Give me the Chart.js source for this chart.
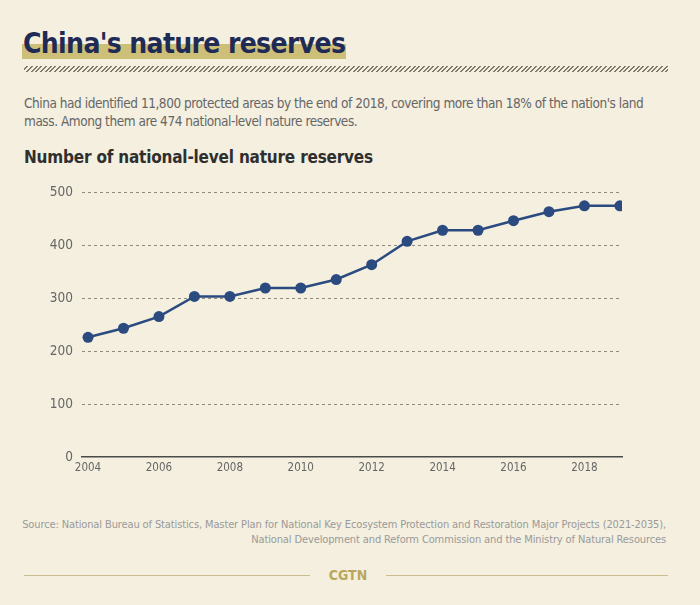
<!DOCTYPE html>
<html>
<head>
<meta charset="utf-8">
<script src="https://cdn.jsdelivr.net/npm/chart.js@4/dist/chart.umd.min.js"></script>
<style>
  html, body { margin: 0; padding: 0; }
  body {
    width: 700px; height: 605px; background: #f4efdf; position: relative; overflow: hidden;
    font-family: "DejaVu Sans Condensed", "Roboto", sans-serif;
  }
  .hl { position: absolute; left: 22px; top: 44px; width: 324px; height: 15px; background: #cdbf78; }
  h1 {
    position: absolute; left: 23px; top: 28px; margin: 0; white-space: nowrap;
    font-family: "DejaVu Sans Condensed", sans-serif;
    font-weight: bold; font-size: 28px; line-height: 32px; color: #1f2b55; letter-spacing: -0.65px;
  }
  .hatch {
    position: absolute; left: 24px; top: 66px; width: 644px; height: 6px;
    background: repeating-linear-gradient(135deg, transparent 0 2px, #7f7b6c 2px 3.3px);
  }
  .intro {
    position: absolute; left: 24px; top: 94px; margin: 0; white-space: nowrap;
    font-size: 13.5px; line-height: 18px; color: #666; letter-spacing: -0.45px;
  }
  h2 {
    position: absolute; left: 24px; top: 147px; margin: 0; white-space: nowrap;
    font-size: 17px; font-weight: bold; color: #2f2f2f; letter-spacing: -0.2px;
  }
  #wrap { position: absolute; left: 30px; top: 175px; width: 610px; height: 310px; }
  .src {
    position: absolute; right: 34px; top: 517px; text-align: right; white-space: nowrap;
    font-size: 11px; line-height: 15px; color: #9a9a9a; letter-spacing: -0.12px;
  }
  .rule { position: absolute; top: 575px; height: 1px; background: #c9bd90; }
  .logo {
    position: absolute; left: 310px; width: 76px; top: 567px; text-align: center;
    font-size: 14px; font-weight: bold; color: #b9a85c;
  }
</style>
</head>
<body>
<div class="hl"></div>
<h1>China's nature reserves</h1>
<div class="hatch"></div>
<p class="intro">China had identified 11,800 protected areas by the end of 2018, covering more than 18% of the nation's land<br>mass. Among them are 474 national-level nature reserves.</p>
<h2>Number of national-level nature reserves</h2>
<div id="wrap"><canvas id="chart"></canvas></div>
<div class="src">Source: National Bureau of Statistics, Master Plan for National Key Ecosystem Protection and Restoration Major Projects (2021-2035),<br>National Development and Reform Commission and the Ministry of Natural Resources</div>
<div class="rule" style="left:24px; width:286px;"></div>
<div class="rule" style="left:386px; width:282px;"></div>
<div class="logo">CGTN</div>
<script>
const years = [2004, 2005, 2006, 2007, 2008, 2009, 2010, 2011, 2012, 2013, 2014, 2015, 2016, 2017, 2018, 2019];
const reserves = [226, 243, 265, 303, 303, 319, 319, 335, 363, 407, 428, 428, 446, 463, 474, 474];
const xTicks = [2004, 2006, 2008, 2010, 2012, 2014, 2016, 2018];
const yTicks = [0, 100, 200, 300, 400, 500];

const lineColor = '#2b4b80';
const tickFont = "'DejaVu Sans Condensed', sans-serif";

new Chart(document.getElementById('chart').getContext('2d'), {
  type: 'line',
  data: {
    datasets: [
      {
        label: 'Reserves',
        data: years.map((y, i) => ({ x: y, y: reserves[i] })),
        borderColor: lineColor,
        backgroundColor: lineColor,
        borderWidth: 2.5,
        borderDash: [],
        pointRadius: 5.5,
        pointBorderWidth: 0,
        fill: false,
        tension: 0
      }
    ]
  },
  options: {
    responsive: true,
    maintainAspectRatio: false,
    animation: false,
    layout: { padding: { top: 0, right: 18, left: 0, bottom: 0 } },
    scales: {
      x: {
        type: 'linear',
        min: 2003.83,
        max: 2019.06,
        afterBuildTicks: (scale) => { scale.ticks = xTicks.map(v => ({ value: v })); },
        afterFit: (scale) => { scale.height = 28; },
        grid: { display: false, drawTicks: false },
        border: { display: true, color: '#4a4a4a', width: 1.5 },
        ticks: {
          color: '#666',
          font: { family: tickFont, size: 11.5 },
          padding: 4,
          maxRotation: 0,
          autoSkip: false,
          callback: (v) => String(v)
        }
      },
      y: {
        min: 0,
        max: 500,
        afterBuildTicks: (scale) => { scale.ticks = yTicks.map(v => ({ value: v })); },
        afterFit: (scale) => { scale.width = 52; },
        grid: {
          color: (ctx) => ctx.tick.value === 0 ? 'rgba(0,0,0,0)' : '#8f8b7c',
          lineWidth: 1,
          drawTicks: false
        },
        border: { display: false, dash: [3, 3] },
        ticks: {
          color: '#666',
          font: { family: tickFont, size: 13.5 },
          padding: 9
        }
      }
    },
    plugins: {
      legend: { display: false },
      tooltip: { enabled: false }
    }
  }
});
</script>
</body>
</html>
